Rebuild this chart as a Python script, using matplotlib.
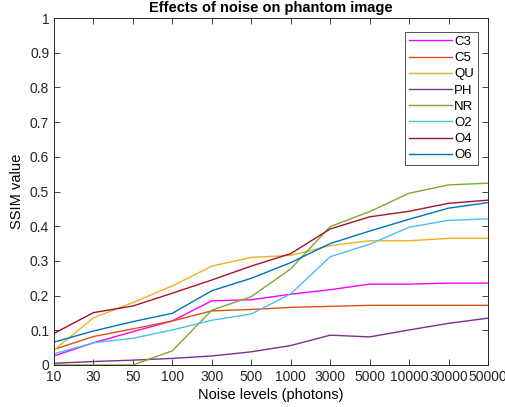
import numpy as np
import matplotlib
matplotlib.use("Agg")
import matplotlib.pyplot as plt

plt.rcParams['font.family'] = ['Liberation Sans', 'DejaVu Sans']

# Noise levels (categorical x axis)
noise_levels = ['10', '30', '50', '100', '300', '500', '1000', '3000',
                '5000', '10000', '30000', '50000']

# SSIM values
c3 = [0.026, 0.064, 0.096, 0.127, 0.185, 0.188, 0.204, 0.217, 0.233, 0.233, 0.236, 0.236]
c5 = [0.045, 0.082, 0.104, 0.127, 0.156, 0.160, 0.166, 0.169, 0.172, 0.172, 0.172, 0.172]
qu = [0.043, 0.136, 0.180, 0.228, 0.285, 0.310, 0.316, 0.344, 0.358, 0.358, 0.365, 0.365]
ph = [0.005, 0.010, 0.014, 0.019, 0.026, 0.038, 0.056, 0.086, 0.081, 0.101, 0.120, 0.135]
nr = [0.0, 0.0, 0.0, 0.041, 0.158, 0.197, 0.277, 0.399, 0.442, 0.495, 0.519, 0.524]
o2 = [0.032, 0.064, 0.077, 0.101, 0.129, 0.147, 0.205, 0.312, 0.348, 0.397, 0.417, 0.421]
o4 = [0.091, 0.151, 0.170, 0.207, 0.245, 0.285, 0.321, 0.392, 0.427, 0.443, 0.466, 0.475]
o6 = [0.066, 0.098, 0.125, 0.149, 0.214, 0.250, 0.295, 0.350, 0.386, 0.420, 0.452, 0.468]

series = [('C3', c3, '#FF00FF'), ('C5', c5, '#D95319'), ('QU', qu, '#EDB120'),
          ('PH', ph, '#7E2F8E'), ('NR', nr, '#77AC30'), ('O2', o2, '#4DBEEE'),
          ('O4', o4, '#A2142F'), ('O6', o6, '#0072BD')]

fig = plt.figure(figsize=(5.05, 4.07), dpi=100)
ax = fig.add_axes([54 / 505, 42 / 407, 434 / 505, 347 / 407])

x = np.arange(len(noise_levels))
for name, vals, col in series:
    ax.plot(x, vals, color=col, lw=1.0, label=name)

ax.set_xlim(0, len(noise_levels) - 1)
ax.set_ylim(0, 1)
ax.set_xticks(x)
ax.set_xticklabels(noise_levels)
ax.set_yticks(np.arange(0, 1.01, 0.1))
ax.set_yticklabels(['0'] + ['%.1f' % v for v in np.arange(0.1, 0.95, 0.1)] + ['1'])
ax.tick_params(direction='in', labelsize=10, length=4, width=0.6, top=True, right=True,
               labeltop=False, labelright=False, colors='#262626')
for s in ax.spines.values():
    s.set_linewidth(0.7)
    s.set_color('#262626')

ax.set_xlabel('Noise levels (photons)', fontsize=10.5, labelpad=3)
ax.set_ylabel('SSIM value', fontsize=10.5, labelpad=4)
ax.set_title('Effects of noise on phantom image', fontsize=10.5, fontweight='bold', pad=4)

leg = ax.legend(loc='upper right', bbox_to_anchor=(0.977, 0.96), fontsize=9.5,
                frameon=True, fancybox=False, handlelength=3.3, labelspacing=0.3,
                borderpad=0.3, handletextpad=0.15, borderaxespad=0)
leg.get_frame().set_edgecolor('#262626')
leg.get_frame().set_linewidth(0.7)

fig.savefig('out.png', dpi=100)
